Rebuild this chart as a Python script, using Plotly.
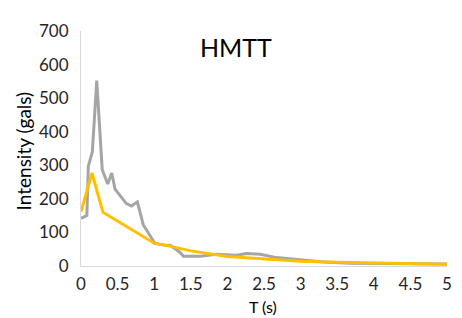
import plotly.graph_objects as go

# Recorded spectrum (gray)
rec_T = [0.0, 0.08, 0.10, 0.155, 0.215, 0.29, 0.365, 0.42, 0.465, 0.53, 0.62, 0.69, 0.77,
         0.85, 0.92, 1.01, 1.17, 1.22, 1.35, 1.40, 1.63, 1.85, 2.13, 2.26, 2.45, 2.67,
         2.99, 3.31, 3.67, 4.13, 4.59, 5.0]
rec_I = [142, 150, 297, 340, 552, 287, 244, 277, 229, 211, 186, 179, 191,
         123, 99, 67, 61, 62, 41, 29, 29, 35, 32, 37, 35, 25,
         19, 12, 8, 8, 6, 6]

# Model / design spectrum (yellow)
mod_T = [0.0, 0.15, 0.30, 1.0, 1.2, 1.5, 2.0, 2.5, 3.0, 3.5, 4.0, 4.5, 5.0]
mod_I = [162, 277, 160, 68, 60, 45, 28, 20, 14, 11, 9, 7, 5]

x_ticks = [0, 0.5, 1, 1.5, 2, 2.5, 3, 3.5, 4, 4.5, 5]
x_tick_labels = ["0", "0.5", "1", "1.5", "2", "2.5", "3", "3.5", "4", "4.5", "5"]
y_ticks = [0, 100, 200, 300, 400, 500, 600, 700]

W, H = 462, 318
OFF = 8  # page body margin offset
# target plot area on screen: x 81..447, y 24..266
L = 81 - OFF
T = 24 - OFF
pw, ph = 366, 242
R = W - L - pw
B = H - T - ph

def px(x):
    return (x - OFF - L) / pw

def py(y):
    return (T + ph - (y - OFF)) / ph

fig = go.Figure()
fig.add_trace(go.Scatter(x=rec_T, y=rec_I, mode="lines",
                         line=dict(color="#A5A5A5", width=3), showlegend=False))
fig.add_trace(go.Scatter(x=mod_T, y=mod_I, mode="lines",
                         line=dict(color="#FFC000", width=3), showlegend=False))

font = "Lato, Calibri, Carlito, sans-serif"

fig.update_layout(
    width=W, height=H,
    margin=dict(l=L, r=R, t=T, b=B, pad=0),
    paper_bgcolor="white", plot_bgcolor="white",
    font=dict(family=font, size=16, color="#262626"),
    annotations=[
        dict(text="HMTT", x=px(236), y=py(40), xref="paper", yref="paper",
             xanchor="center", yanchor="middle",
             showarrow=False, font=dict(family=font, size=25, color="#000000")),
        dict(text="Intensity (gals)", x=px(23), y=py(148), xref="paper", yref="paper",
             xanchor="center", yanchor="middle",
             textangle=-90, showarrow=False, font=dict(family=font, size=19, color="#000000")),
        dict(text="T (s)", x=px(263), y=py(308), xref="paper", yref="paper",
             xanchor="center", yanchor="middle",
             showarrow=False, font=dict(family=font, size=16, color="#000000")),
    ],
)
fig.update_xaxes(range=[0, 5], tickvals=x_ticks, ticktext=x_tick_labels, showgrid=False,
                 zeroline=False, showline=True, linecolor="#D9D9D9", linewidth=1,
                 ticks="outside", ticklen=3, tickcolor="rgba(0,0,0,0)",
                 tickfont=dict(size=17, color="#262626"))
fig.update_yaxes(range=[0, 700], tickvals=y_ticks, showgrid=False, zeroline=False,
                 showline=True, linecolor="#D9D9D9", linewidth=1,
                 ticks="outside", ticklen=8, tickcolor="rgba(0,0,0,0)",
                 tickfont=dict(size=17, color="#262626"))

fig.write_html("out.html")
